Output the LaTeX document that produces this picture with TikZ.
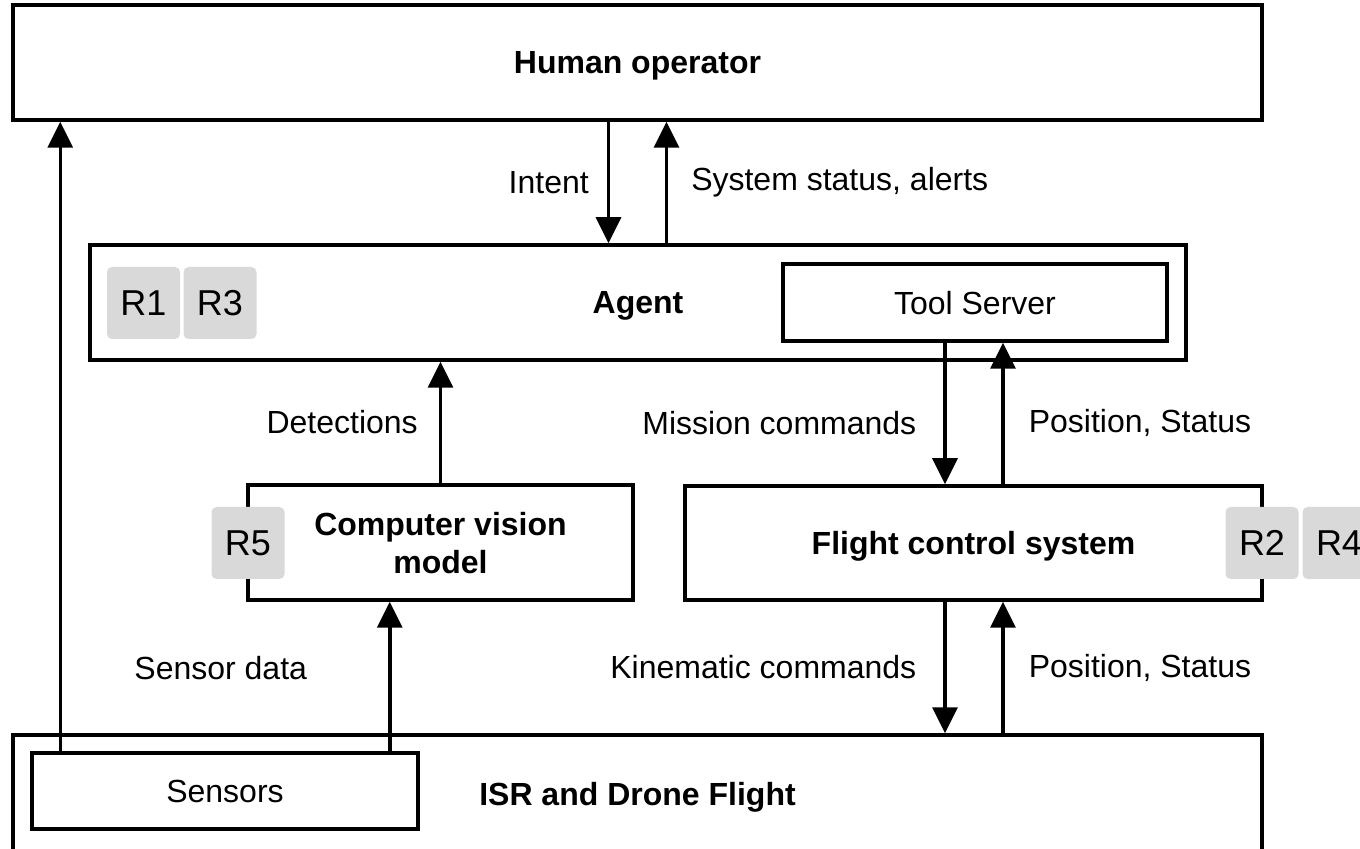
\documentclass[tikz,border=0pt]{standalone}
\usepackage{fontspec}
\setmainfont{Liberation Sans}
\usepackage{xcolor}
\usepackage{tikz}
\usetikzlibrary{arrows.meta}
\definecolor{badgegray}{HTML}{D9D9D9}

\begin{document}
\begin{tikzpicture}[x=0.5pt, y=-0.5pt, font=\fontsize{16}{19}\selectfont,
    block/.style={draw, line width=1.75pt, inner sep=0pt, text depth=0pt, align=center, font=\fontsize{16}{19}\selectfont\bfseries},
    plainblock/.style={block, font=\fontsize{16}{19}\selectfont},
    badge/.style={fill=badgegray, rounded corners=2.5pt, minimum width=36.5pt, minimum height=36pt, inner sep=0pt, font=\fontsize{18}{21}\selectfont},
    arr/.style={line width=1.75pt, -{Triangle[length=13pt, width=12.5pt]}},
    lbl/.style={inner sep=0pt}]
    \useasboundingbox (0,0) rectangle (1360,849);

    \node[block, minimum width=624.5pt, minimum height=57.5pt] (human) at (637.5,62.5) {Human operator};
    \node[block, minimum width=548pt, minimum height=57.5pt] (agent) at (638,302.5) {Agent};
    \node[plainblock, minimum width=192pt, minimum height=38.5pt] (tools) at (975,302.5) {Tool Server};
    \node[block, minimum width=192.5pt, minimum height=57.5pt] (cv) at (440.5,542.5) {Computer vision\\model};
    \node[block, minimum width=288.5pt, minimum height=57pt] (fcs) at (973.5,543) {Flight control system};
    \node[block, minimum width=624.5pt, minimum height=59pt] (isr) at (637.5,794) {ISR and Drone Flight};
    \node[plainblock, minimum width=193pt, minimum height=38pt] (sensors) at (225,791) {Sensors};

    % requirement tags
    \node[badge] (r1) at (143.5,303) {R1};
    \node[badge] (r3) at (220,303) {R3};
    \node[badge] (r5) at (248,543) {R5};
    \node[badge] (r2) at (1262,543) {R2};
    \node[badge] (r4) at (1339,543) {R4};

    \draw[arr] ([xshift=-14.5pt]human.south) -- ([xshift=-14.5pt]human.south |- agent.north) node[midway, left=9pt, lbl] {Intent};
    \draw[arr] ([xshift=14.5pt]human.south |- agent.north) -- ([xshift=14.5pt]human.south) node[midway, right=11.5pt, lbl] {System status, alerts};

    \draw[arr] ([xshift=15pt]sensors.north west) -- ([xshift=15pt]sensors.north west |- human.south);
    \draw[arr] ([xshift=-15pt]sensors.north east) -- ([xshift=-15pt]sensors.north east |- cv.south) node[pos=0.556, left=40.5pt, lbl] {Sensor data};
    \draw[arr] (cv.north) -- (cv.north |- agent.south) node[midway, left=10.5pt, lbl] {Detections};

    \draw[arr] ([xshift=-15pt]tools.south) -- ([xshift=-15pt]tools.south |- fcs.north) node[pos=0.566, left=13.5pt, lbl] {Mission commands};
    \draw[arr] ([xshift=14pt]tools.south |- fcs.north) -- ([xshift=14pt]tools.south) node[pos=0.434, right=12pt, lbl] {Position, Status};
    \draw[arr] ([xshift=-15pt]tools.south |- fcs.south) -- ([xshift=-15pt]tools.south |- isr.north) node[midway, left=13.5pt, lbl] {Kinematic commands};
    \draw[arr] ([xshift=14pt]tools.south |- isr.north) -- ([xshift=14pt]tools.south |- fcs.south) node[midway, right=12pt, lbl] {Position, Status};
\end{tikzpicture}
\end{document}
